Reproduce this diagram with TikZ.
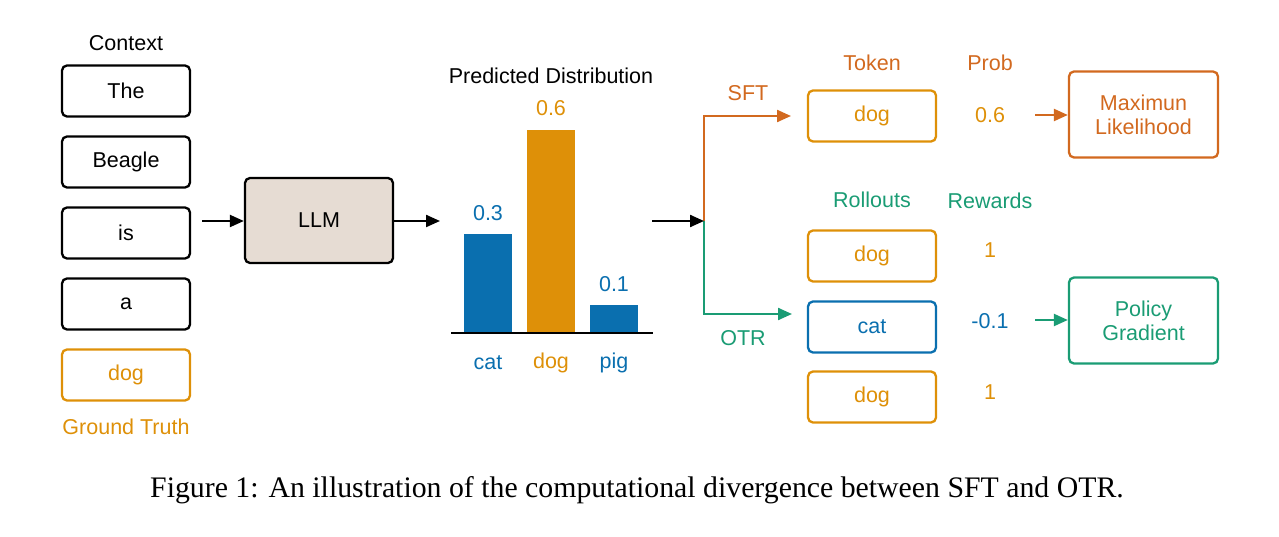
\documentclass[tikz,border=0pt]{standalone}
\usepackage{fontspec}
\setmainfont{Liberation Sans}
\newfontfamily\capfont{Liberation Serif}
\usetikzlibrary{arrows.meta}
\definecolor{cblue}{HTML}{0A6FAF}
\definecolor{corange}{HTML}{DE9008}
\definecolor{cverm}{HTML}{D2691F}
\definecolor{cgreen}{HTML}{1A9C74}
\definecolor{llmfill}{HTML}{E6DCD3}
\begin{document}
\begin{tikzpicture}[x=1pt,y=-1pt,
  font=\fontsize{21.5}{24}\selectfont,
  box/.style={draw, line width=2.3pt, rounded corners=5pt, minimum width=128pt, minimum height=51pt, inner sep=0pt},
  bigbox/.style={draw, line width=2.3pt, rounded corners=5pt, minimum width=149pt, minimum height=86pt, inner sep=0pt, align=center},
  lab/.style={inner sep=0pt},
  bar/.style={inner sep=0pt, minimum width=48pt, anchor=south},
  arr/.style={line width=2.2pt, -{Triangle[length=14pt,width=12pt]}}]
\useasboundingbox (0,0) rectangle (1279,537);

% context column
\node[lab] (ctx) at (126,43) {Context};
\node[box] (c1) at (126,91) {The};
\node[box] (c2) at (126,162) {Beagle};
\node[box] (c3) at (126,233) {is};
\node[box] (c4) at (126,304) {a};
\node[box, draw=corange, text=corange] (c5) at (126,375) {dog};
\node[lab, text=corange] (gt) at (126,427) {Ground Truth};

% LLM
\node[draw, line width=2.3pt, rounded corners=5pt, fill=llmfill, minimum width=148pt, minimum height=85pt] (llm) at (319,220.5) {LLM};
\coordinate (a1s) at (202,221);
\draw[arr] (a1s) -- (llm.west |- a1s);
\coordinate (a2e) at (440,221);
\draw[arr] (llm.east |- a2e) -- (a2e);

% predicted distribution
\node[lab] (pd) at (551,76) {Predicted Distribution};
\node[bar, fill=cblue, minimum height=99pt] (bcat) at (488,333) {};
\node[bar, fill=corange, minimum height=203pt] (bdog) at (551,333) {};
\node[bar, fill=cblue, minimum height=28pt] (bpig) at (614,333) {};
\coordinate (bl) at (451,333);
\coordinate (br) at (653,333);
\draw[line width=2pt] (bl) -- (br);
\node[lab, text=cblue] (v1) at (488,213) {0.3};
\node[lab, text=corange] (v2) at (551,108) {0.6};
\node[lab, text=cblue] (v3) at (614,284) {0.1};
\node[lab, text=cblue] (l1) at (488,363) {cat};
\node[lab, text=corange] (l2) at (551,363) {dog};
\node[lab, text=cblue] (l3) at (614,363) {pig};

% split
\coordinate (s0) at (652,221);
\coordinate (j) at (704,221);
\coordinate (sftend) at (791,116);
\coordinate (otrend) at (792,314);
\draw[arr, cverm] (j) |- (sftend);
\draw[arr, cgreen] (j) |- (otrend);
\draw[arr] (s0) -- (j);
\node[lab, text=cverm] (sft) at (748,93) {SFT};
\node[lab, text=cgreen] (otr) at (743,338) {OTR};

% SFT branch
\node[lab, text=cverm] (tokl) at (872,63) {Token};
\node[lab, text=cverm] (probl) at (990,63) {Prob};
\node[box, draw=corange, text=corange] (tok) at (872,116) {dog};
\node[lab, text=corange] (p06) at (990,115) {0.6};
\node[bigbox, draw=cverm, text=cverm] (ml) at (1143.5,114.5) {Maximun\\Likelihood};
\coordinate (a3s) at (1035,115);
\draw[arr, cverm] (a3s) -- (ml.west |- a3s);

% OTR branch
\node[lab, text=cgreen] (rol) at (872,200) {Rollouts};
\node[lab, text=cgreen] (rew) at (990,201) {Rewards};
\node[box, draw=corange, text=corange] (r1) at (872,256) {dog};
\node[box, draw=cblue, text=cblue] (r2) at (872,327) {cat};
\node[box, draw=corange, text=corange] (r3) at (872,397) {dog};
\node[lab, text=corange] (w1) at (990,250) {1};
\node[lab, text=cblue] (w2) at (990,321) {-0.1};
\node[lab, text=corange] (w3) at (990,392) {1};
\node[bigbox, draw=cgreen, text=cgreen] (pg) at (1143.5,320.5) {Policy\\Gradient};
\coordinate (a4s) at (1035,320);
\draw[arr, cgreen] (a4s) -- (pg.west |- a4s);

% caption
\node[lab, font=\capfont\fontsize{29.8}{32}\selectfont] (cap) at (637,490) {Figure 1: An illustration of the computational divergence between SFT and OTR.};
\end{tikzpicture}
\end{document}
